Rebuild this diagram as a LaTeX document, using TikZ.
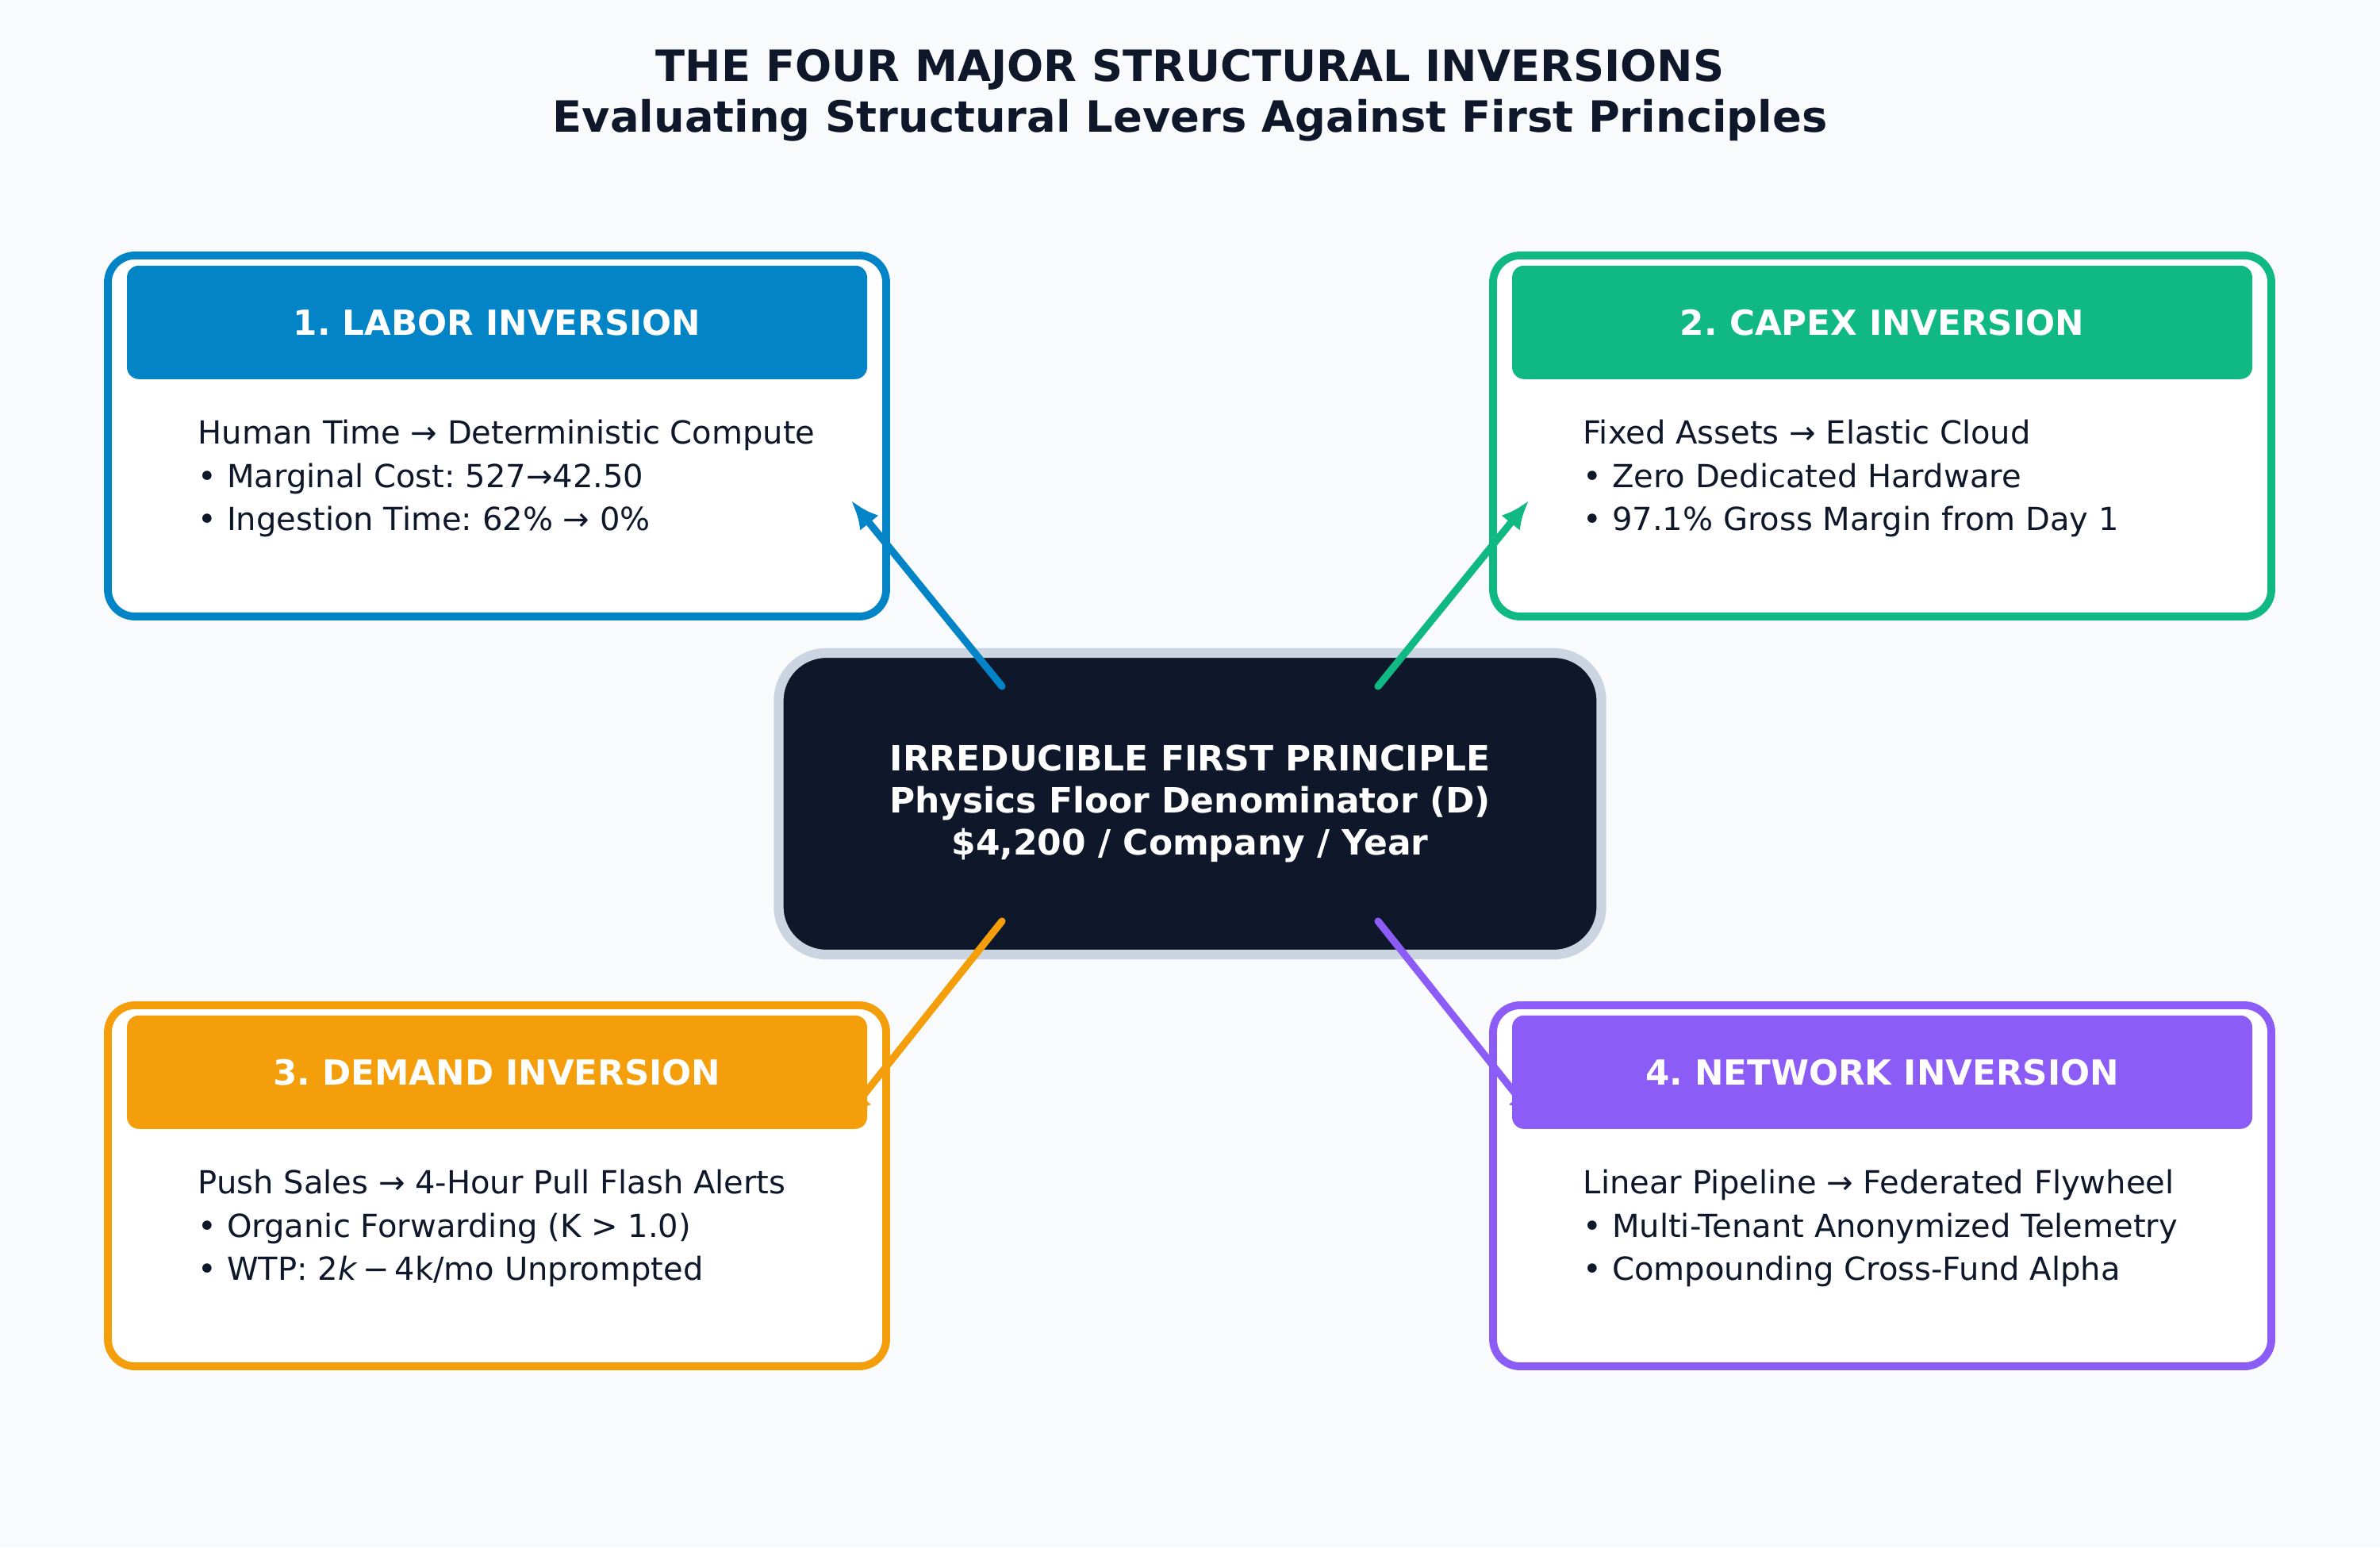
\documentclass[tikz,border=0pt]{standalone}
\usepackage{fontspec}
\setmainfont{DejaVu Sans}
\usetikzlibrary{arrows.meta}
\frenchspacing

\definecolor{ink}{HTML}{0F172A}
\definecolor{paper}{HTML}{F8FAFC}
\definecolor{rim}{HTML}{CBD5E1}
\definecolor{laborblue}{HTML}{0284C7}
\definecolor{capexgreen}{HTML}{10B981}
\definecolor{demandamber}{HTML}{F59E0B}
\definecolor{networkviolet}{HTML}{8B5CF6}

\begin{document}
\begin{tikzpicture}[
  panel/.style={draw=#1, fill=white, line width=2.8pt, rounded corners=0.34cm,
    minimum width=9.81cm, minimum height=4.55cm},
  banner/.style={fill=#1, text=white, rounded corners=0.15cm, anchor=north,
    minimum width=9.33cm, minimum height=1.43cm, font=\fontsize{12.4}{14}\selectfont\bfseries},
  bodytext/.style={text=ink, align=left, inner sep=0pt, anchor=north west,
    font=\fontsize{11.4}{15.6}\selectfont},
  core/.style={fill=ink, draw=rim, line width=3.5pt, rounded corners=0.6cm,
    minimum width=10.37cm, minimum height=3.8cm, text=white, align=center,
    font=\fontsize{12.5}{15.2}\selectfont\bfseries},
  headline/.style={text=ink, anchor=base, font=\fontsize{15.45}{18}\selectfont\bfseries},
  link/.style={draw=#1, line width=2.6pt, line cap=round, -{Latex[length=0.36cm,width=0.3cm]}}
]

\fill[paper] (0,0) rectangle (30,19.5);

% title
\node[headline] (title) at (15,18.47) {THE FOUR MAJOR STRUCTURAL INVERSIONS};
\node[headline] (subtitle) at (15,17.83) {Evaluating Structural Levers Against First Principles};

% four panels
\foreach \name/\pos/\col in {labor/{6.265,14.005}/laborblue, capex/{23.725,14.005}/capexgreen,
  demand/{6.265,4.555}/demandamber, network/{23.725,4.555}/networkviolet}
  {\node[panel=\col] (\name) at (\pos) {};}

% core
\node[core] (core) at (15,9.37) {IRREDUCIBLE FIRST PRINCIPLE\\Physics Floor Denominator (D)\\\$4,200 / Company / Year};

\coordinate (core-nw) at ([shift={(-2.37,1.48)}]core.center);
\coordinate (core-ne) at ([shift={(2.37,1.48)}]core.center);
\coordinate (core-sw) at ([shift={(-2.37,-1.48)}]core.center);
\coordinate (core-se) at ([shift={(2.37,-1.48)}]core.center);
\coordinate (labor-tip) at ([shift={(-4.27,3.82)}]core.center);
\coordinate (capex-tip) at ([shift={(4.27,3.82)}]core.center);
\coordinate (demand-tip) at ([shift={(-4.36,-3.98)}]core.center);
\coordinate (network-tip) at ([shift={(4.36,-3.98)}]core.center);

\draw[link=laborblue] (core-nw) -- (labor-tip);
\draw[link=capexgreen] (core-ne) -- (capex-tip);
\draw[link=demandamber] (core-sw) -- (demand-tip);
\draw[link=networkviolet] (core-se) -- (network-tip);

% banners and text
\foreach \name/\col/\head/\body in {
  labor/laborblue/{1. LABOR INVERSION}/{Human Time → Deterministic Compute\\• Marginal Cost: 527→42.50\\• Ingestion Time: 62\% → 0\%},
  capex/capexgreen/{2. CAPEX INVERSION}/{Fixed Assets → Elastic Cloud\\• Zero Dedicated Hardware\\• 97.1\% Gross Margin from Day 1},
  demand/demandamber/{3. DEMAND INVERSION}/{Push Sales → 4-Hour Pull Flash Alerts\\• Organic Forwarding (K > 1.0)\\• WTP: 2\textit{k}\,−\,4k/mo Unprompted},
  network/networkviolet/{4. NETWORK INVERSION}/{Linear Pipeline → Federated Flywheel\\• Multi-Tenant Anonymized Telemetry\\• Compounding Cross-Fund Alpha}}
{
  \node[banner=\col] (\name-head) at ([yshift=-0.17cm]\name.north) {\head};
  \node[bodytext] (\name-text) at ([shift={(1.18,-2.11)}]\name.north west) {\body};
}

\end{tikzpicture}
\end{document}
